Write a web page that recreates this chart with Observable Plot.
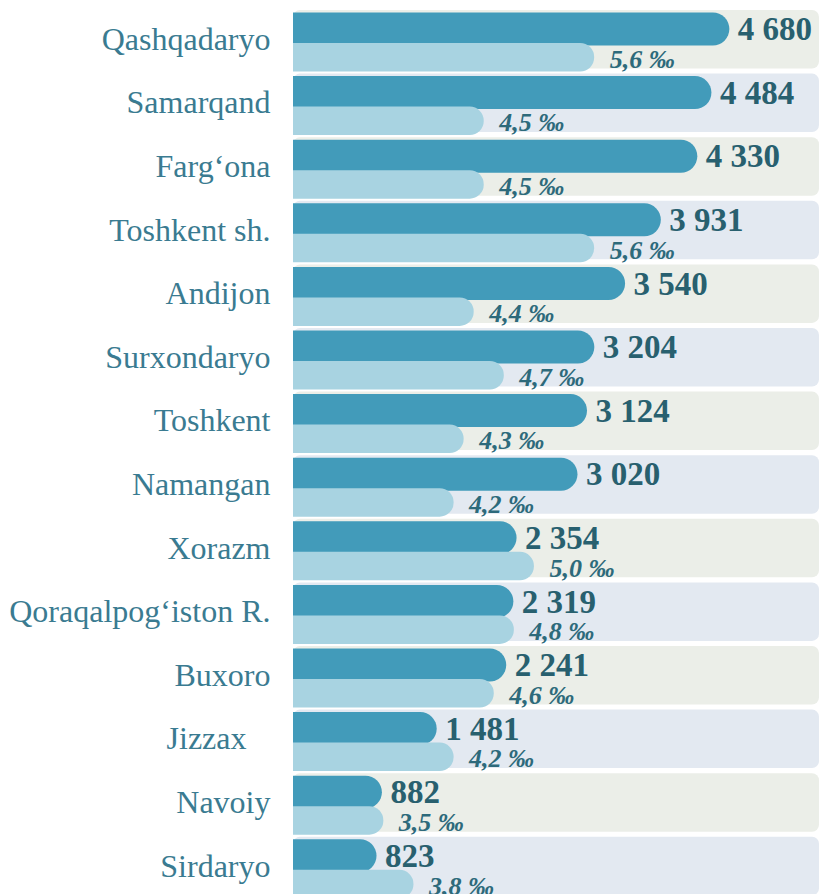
<!DOCTYPE html>
<html>
<head>
<meta charset="utf-8">
<script src="https://cdn.jsdelivr.net/npm/d3@7"></script>
<script src="https://cdn.jsdelivr.net/npm/@observablehq/plot@0.6"></script>
<style>
  html, body { margin: 0; padding: 0; background: #ffffff; }
  #chart { position: relative; width: 819px; height: 894px; overflow: hidden; }
  #chart svg { position: absolute; left: 0; top: 0; }
</style>
</head>
<body>
<div id="chart"></div>
<script>
// ---- data ----
const regions = [
  "Qashqadaryo", "Samarqand", "Farg\u2018ona", "Toshkent sh.", "Andijon",
  "Surxondaryo", "Toshkent", "Namangan", "Xorazm", "Qoraqalpog\u2018iston R.",
  "Buxoro", "Jizzax\u00a0\u00a0\u00a0", "Navoiy", "Sirdaryo"
];
const births = [4680, 4484, 4330, 3931, 3540, 3204, 3124, 3020, 2354, 2319, 2241, 1481, 882, 823];
const perMille = [5.6, 4.5, 4.5, 5.6, 4.4, 4.7, 4.3, 4.2, 5.0, 4.8, 4.6, 4.2, 3.5, 3.8];

const data = regions.map((region, i) => ({ region, births: births[i], perMille: perMille[i], row: i }));

const loc = d3.formatLocale({ decimal: ",", thousands: " ", grouping: [3], currency: ["", ""] });
const fmtCount = loc.format(",d");
const fmtPM = loc.format(".1f");

const W = 819, H = 894;
const countDomain = [-90, 5660];
const pmDomain = [2.6, 7.84];
const yOpts = { domain: regions, range: [10, 895.3], paddingInner: 0.08, paddingOuter: 0, round: false, axis: null };
const font = "'Liberation Serif', 'Times New Roman', serif";

const p1 = Plot.plot({
  width: W, height: H,
  marginLeft: 293, marginRight: 0, marginTop: 10, marginBottom: 0,
  style: { fontFamily: font, background: "#ffffff", overflow: "visible" },
  x: { domain: countDomain, axis: null },
  y: yOpts,
  color: { type: "identity" },
  marks: [
    Plot.barX(data, {
      y: "region", x1: countDomain[0], x2: countDomain[1],
      fill: d => d.row % 2 ? "#e3e9f1" : "#ebeee8", rx: 7
    }),
    Plot.barX(data, {
      y: "region", x1: countDomain[0] - 600, x2: "births",
      fill: "#429bba", insetTop: 2.5, insetBottom: 23, rx: 16.5, clip: true
    }),
    Plot.text(data, {
      y: "region", frameAnchor: "left", text: "region",
      textAnchor: "end", lineAnchor: "bottom", dx: -23, dy: 10,
      fontSize: 32, fill: "#3a7b91"
    }),
    Plot.text(data, {
      y: "region", x: "births", text: d => fmtCount(d.births),
      textAnchor: "start", lineAnchor: "bottom", dx: 8, dy: 0.5,
      fontSize: 33, fontWeight: "bold", fill: "#28606f"
    })
  ]
});

const p2 = Plot.plot({
  width: W, height: H,
  marginLeft: 293, marginRight: 0, marginTop: 10, marginBottom: 0,
  style: { fontFamily: font, background: "transparent", overflow: "visible" },
  x: { domain: pmDomain, axis: null },
  y: yOpts,
  marks: [
    Plot.barX(data, {
      y: "region", x1: 0, x2: "perMille",
      fill: "#a8d3e1", insetTop: 33, insetBottom: -3, rx: 14, clip: true
    }),
    Plot.text(data, {
      y: "region", x: "perMille", text: d => fmtPM(d.perMille) + " \u2030",
      textAnchor: "start", lineAnchor: "bottom", dx: 15, dy: 28,
      fontSize: 26, fontWeight: "bold", fontStyle: "italic", fill: "#2d6a7b"
    })
  ]
});

const chart = document.getElementById("chart");
chart.appendChild(p1);
chart.appendChild(p2);
</script>
</body>
</html>
